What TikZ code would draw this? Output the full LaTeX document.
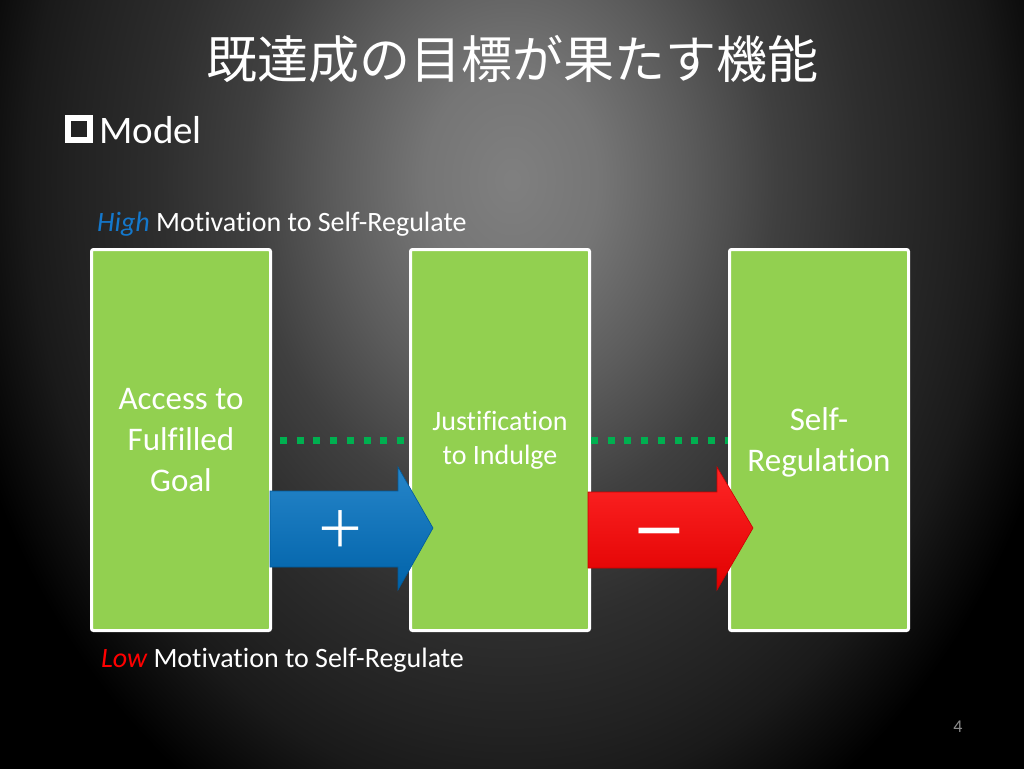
\documentclass[tikz,border=0pt]{standalone}
\usepackage{fontspec}
\setmainfont{Carlito}[Ligatures=NoCommon]
\newfontfamily\jpfont{Noto Sans CJK JP}
\usepackage{xcolor}
\usepackage{tikz}
\usetikzlibrary{calc, positioning}

\definecolor{leafgreen}{HTML}{92D050}
\definecolor{dotgreen}{HTML}{00B050}
\definecolor{plusblue}{HTML}{0070C0}
\definecolor{highblue}{HTML}{1478CC}
\definecolor{minusred}{HTML}{FF0000}
\definecolor{pagegray}{HTML}{8C8C8C}

\pgfdeclareradialshading{slideglow}{\pgfpointorigin}{%
  color(0bp)=(black!50); color(4bp)=(black!54); color(8bp)=(black!64);
  color(12bp)=(black!75); color(16bp)=(black!82); color(20bp)=(black!87);
  color(22bp)=(black!90); color(24bp)=(black!95); color(26bp)=(black);
  color(50bp)=(black)}

\begin{document}
\begin{tikzpicture}[x=1pt, y=-1pt,
    stage/.style={rectangle, draw=white, line width=3pt, fill=leafgreen, rounded corners=2pt,
      minimum width=179pt, minimum height=381pt, align=center, text=white,
      font=\fontsize{33}{41}\selectfont},
    dotlink/.style={dotgreen, line width=7pt, dash pattern=on 7pt off 9.7pt},
    sign/.style={text=white, inner sep=0pt, font=\jpfont\fontsize{50}{50}\selectfont},
    caption/.style={anchor=base west, inner sep=0pt, text=white, font=\fontsize{28}{34}\selectfont},
    bulletbox/.style={rectangle, draw=white, line width=6pt, minimum size=22pt, inner sep=0pt}
]
    \useasboundingbox (0,0) rectangle (1024,768);

    % slide background
    \fill[black] (0,0) rectangle (1024,768);
    \begin{scope}
        \clip (0,0) rectangle (1024,768);
        \shade[shading=slideglow] (-38,-520) rectangle (1062,880);
    \end{scope}

    \node[text=white, inner sep=0pt, font=\jpfont\fontsize{51}{60}\selectfont] (title) at (512,59) {既達成の目標が果たす機能};

    \node[bulletbox] (bullet) at (79,129) {};
    \node[anchor=base west, inner sep=0pt, text=white, font=\fontsize{39}{47}\selectfont] (model) at (99,143) {Model};

    \node[caption] (high) at (97,231) {\textcolor{highblue}{\itshape High} Motivation to Self-Regulate};

    \node[stage] (acc) at (181,440) {Access to\\Fulfilled\\Goal};
    \node[stage, font=\fontsize{28}{34}\selectfont] (just) at (500,440) {Justification\\to Indulge};
    \node[stage] (reg) at (819,440) {\rule{0pt}{27pt}Self-\\Regulation};

    \node[caption] (low) at (101,667) {\textcolor{minusred}{\itshape Low} Motivation to Self-Regulate};

    % dotted level lines
    \draw[dotlink] ($(acc.east)+(8,0)$) -- (just.west);
    \draw[dotlink] (just.east) -- (reg.west);

    % block arrows
    \shade[top color=plusblue!85!white, middle color=plusblue, bottom color=plusblue!88!black, draw=plusblue!80!black, line width=0.6pt]
        ($(acc.east)+(-2,51)$) -- ($(just.west)+(-11,51)$) -- ($(just.west)+(-11,27)$)
        -- ($(just.west)+(24,88)$) -- ($(just.west)+(-11,150)$) -- ($(just.west)+(-11,127)$)
        -- ($(acc.east)+(-2,127)$) -- cycle;
    \shade[top color=minusred!85!white, middle color=minusred, bottom color=minusred!88!black, draw=minusred!80!black, line width=0.6pt]
        ($(just.east)+(-3,52)$) -- ($(reg.west)+(-11,52)$) -- ($(reg.west)+(-11,27)$)
        -- ($(reg.west)+(25,88)$) -- ($(reg.west)+(-11,150)$) -- ($(reg.west)+(-11,128)$)
        -- ($(just.east)+(-3,128)$) -- cycle;

    \node[sign] (plus) at ($(acc.east)!0.5!(just.west)+(0,89)$) {＋};
    \node[sign, font=\jpfont\bfseries\fontsize{50}{50}\selectfont] (minus) at ($(just.east)!0.5!(reg.west)+(0,97)$) {—};

    \node[text=pagegray, inner sep=0pt, font=\fontsize{18}{20}\selectfont] (pageno) at (958,727) {4};
\end{tikzpicture}
\end{document}
